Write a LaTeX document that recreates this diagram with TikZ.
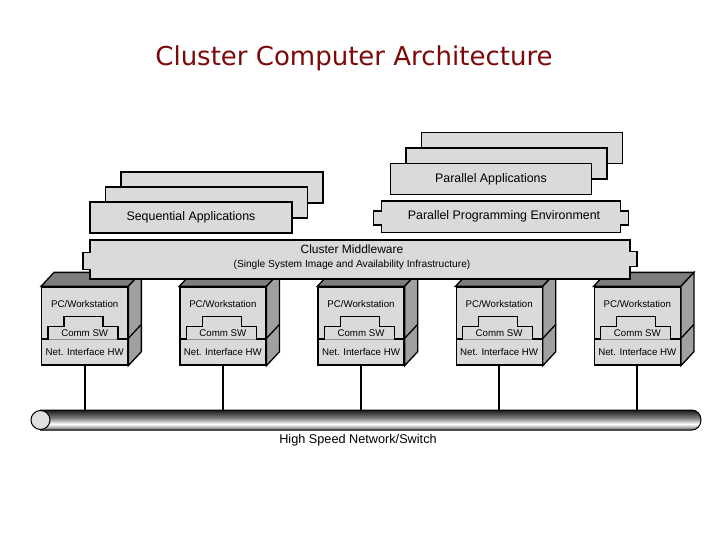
\documentclass[tikz,border=0pt]{standalone}
\usepackage{fontspec}
\setmainfont{Liberation Sans}
\newfontfamily\titlefont{DejaVu Sans}
\usepackage{xcolor}
\usetikzlibrary{calc}
\definecolor{titlered}{RGB}{125,10,10}
\definecolor{panel}{RGB}{218,218,218}
\definecolor{topface}{RGB}{125,125,125}
\definecolor{sideface}{RGB}{160,160,160}
\pgfdeclareverticalshading{pipe}{100bp}{color(0bp)=(black!75); color(25bp)=(black!75); color(30bp)=(black!40); color(40bp)=(white); color(55bp)=(black!50); color(75bp)=(black!90); color(100bp)=(black!90)}

\begin{document}
\begin{tikzpicture}[x=1pt, y=-1pt,
    layer/.style={draw, fill=panel, line width=1.5pt, minimum height=31pt, inner sep=0pt},
    tabbed/.style={inner sep=0pt},
    outline/.style={draw, fill=panel, line width=1.5pt},
    face/.style={draw, fill=panel, line width=1.3pt, inner sep=0pt, minimum width=86pt},
    big/.style={font=\fontsize{12.4}{14}\selectfont},
    small/.style={font=\fontsize{9.7}{11}\selectfont}
    ]
  \fill[white] (0,0) rectangle (720,540);
  \useasboundingbox (0,0) rectangle (720,540);

  \node[font=\titlefont\fontsize{26}{30}\selectfont, text=titlered, anchor=base] (title) at (354,66) {Cluster Computer Architecture};

  % workstations
  \foreach \i [evaluate=\i as \wx using 84.7+138.15*\i] in {0,...,4} {
    \node[face, minimum height=52pt] (pc\i) at (\wx,313) {};
    \node[face, minimum height=26pt, small] (nic\i) at (\wx,352) {Net. Interface HW};
    \filldraw[fill=topface, line width=1.3pt] (pc\i.north west) -- ++(13,-14)
      -- ([xshift=13pt, yshift=14pt]pc\i.north east) -- (pc\i.north east) -- cycle;
    \filldraw[fill=sideface, line width=1.3pt] (pc\i.north east) -- ++(13,-14)
      -- ([xshift=13pt, yshift=14pt]nic\i.south east) -- (nic\i.south east) -- cycle;
    \draw[line width=1.3pt] (nic\i.north east) -- ++(13,-14);
    \filldraw[fill=panel, line width=1.2pt] ($(pc\i.south west)+(7,0)$) -- ++(0,-13) -- ++(16,0)
      -- ++(0,-10) -- ++(39,0) -- ++(0,10) -- ++(15,0) -- ++(0,13);
    \node[small] (comm\i) at ($(pc\i.south)+(0,-6)$) {Comm SW};
    \node[small] (pcl\i) at ($(pc\i.north)+(0,17.5)$) {PC/Workstation};
  }

  % network
  \coordinate (bus) at (40.5,410);
  \foreach \i in {0,...,4}
    \draw[line width=1.8pt] (nic\i.south) -- (nic\i.south |- bus);
  \shade[shading=pipe, draw, line width=1pt] (bus) -- (692,410)
    arc[start angle=-90, end angle=90, x radius=9, y radius=10] -- (40.5,430) -- cycle;
  \filldraw[fill=black!12, line width=1pt] (40.5,420) circle[radius=9.5];
  \node[font=\fontsize{12.7}{14}\selectfont] (netlabel) at (358,440) {High Speed Network/Switch};

  % applications
  \node[layer, minimum width=202pt] (seqc) at (222,187.5) {};
  \node[layer, minimum width=202pt] (seqb) at (206.5,202.5) {};
  \node[layer, minimum width=202pt, big] (seqa) at (191,217.5) {Sequential Applications};

  \node[layer, minimum width=201pt] (parc) at (522,148) {};
  \node[layer, minimum width=201pt] (parb) at (506.5,163.5) {};
  \node[layer, minimum width=201pt, big] (para) at (491,179) {Parallel Applications};

  \node[tabbed, minimum width=239pt, minimum height=31pt] (ppe) at (501,216.6) {};
  \path[outline] (ppe.north west) -- (ppe.north east) -- ([yshift=5.6pt]ppe.east) -- ++(8,0)
    -- ++(0,14) -- ++(-8,0) -- (ppe.south east) -- (ppe.south west) -- ([yshift=-8.4pt]ppe.west)
    -- ++(-8,0) -- ++(0,-14) -- ++(8,0) -- cycle;
  \node[big] (ppetext) at (504,216.6) {Parallel Programming Environment};

  % middleware
  \node[tabbed, minimum width=540pt, minimum height=39pt] (mw) at (360,259.5) {};
  \path[outline] (mw.north west) -- (mw.north east) -- ([yshift=8pt]mw.east) -- ++(7,0)
    -- ++(0,15) -- ++(-7,0) -- (mw.south east) -- (mw.south west) -- ([yshift=-10pt]mw.west)
    -- ++(-7,0) -- ++(0,-17) -- ++(7,0) -- cycle;
  \node[align=center, font=\fontsize{10.2}{13.6}\selectfont] (mwtext) at (352,257.5)
    {{\fontsize{12}{13.6}\selectfont Cluster Middleware}\\(Single System Image and Availability Infrastructure)};
\end{tikzpicture}
\end{document}
